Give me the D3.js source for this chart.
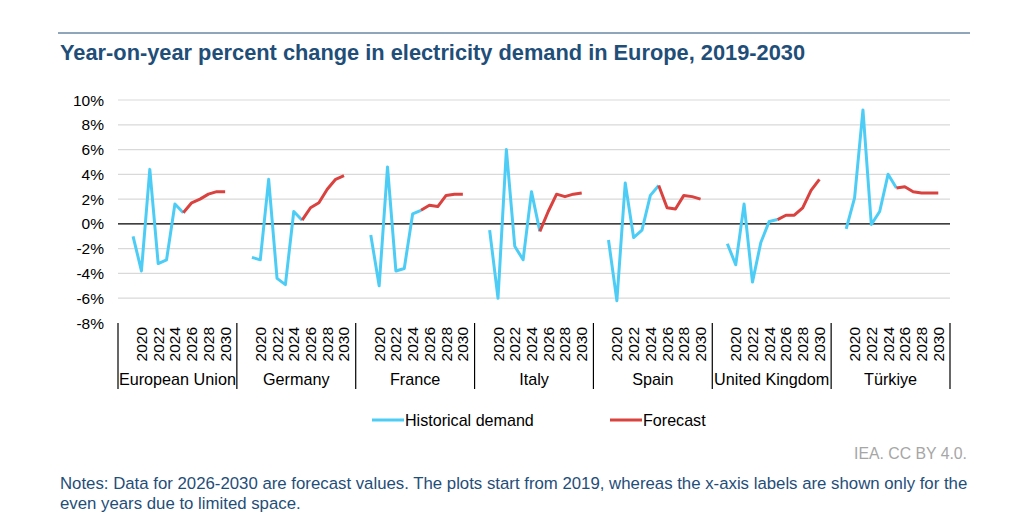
<!DOCTYPE html>
<html>
<head>
<meta charset="utf-8">
<script src="https://cdn.jsdelivr.net/npm/d3@7"></script>
<style>
body { margin: 0; background: #fff; font-family: "Liberation Sans", Arial, sans-serif; }
</style>
</head>
<body>
<div class="graphic"></div>
<script>
var regions = ["European Union", "Germany", "France", "Italy", "Spain", "United Kingdom", "Türkiye"];
var years = [2019, 2020, 2021, 2022, 2023, 2024, 2025, 2026, 2027, 2028, 2029, 2030];
var labelYears = [2020, 2022, 2024, 2026, 2028, 2030];
var yTicks = [10, 8, 6, 4, 2, 0, -2, -4, -6, -8];
var lastHistorical = 2025;
// percent change per region, 2019..2030
var demand = [
	[-1.0, -3.8, 4.4, -3.2, -2.9, 1.6, 0.9, 1.7, 2.0, 2.4, 2.6, 2.6],
	[-2.7, -2.9, 3.6, -4.4, -4.9, 1.0, 0.3, 1.3, 1.7, 2.8, 3.6, 3.9],
	[-0.9, -5.0, 4.6, -3.8, -3.6, 0.8, 1.1, 1.5, 1.4, 2.3, 2.4, 2.4],
	[-0.5, -6.0, 6.0, -1.8, -2.9, 2.6, -0.6, 1.0, 2.4, 2.2, 2.4, 2.5],
	[-1.3, -6.2, 3.3, -1.1, -0.5, 2.3, 3.1, 1.3, 1.2, 2.3, 2.2, 2.0],
	[-1.6, -3.3, 1.6, -4.7, -1.5, 0.2, 0.35, 0.7, 0.7, 1.3, 2.7, 3.6],
	[-0.4, 2.1, 9.2, -0.05, 1.0, 4.0, 2.9, 3.0, 2.6, 2.5, 2.5, 2.5]
];

var width = 1011, height = 516;
var navy = "#1f4e79";
var svg = d3.select("div.graphic").append("svg")
	.attr("width", width)
	.attr("height", height);

svg.append("line").attr("x1", 58).attr("x2", 970).attr("y1", 33).attr("y2", 33)
	.attr("stroke", navy).attr("stroke-width", 1);
svg.append("text").attr("x", 60).attr("y", 60)
	.attr("font-size", 21.8).attr("font-weight", "bold").attr("fill", navy)
	.text("Year-on-year percent change in electricity demand in Europe, 2019-2030");

var left = 118, right = 950;
var y = d3.scaleLinear().domain([-8, 10]).range([323, 100]);
var gx = d3.scaleBand().domain(regions).range([left, right]);
var inner = d3.scaleLinear().domain([2017.2, 2031.4]).range([0, gx.bandwidth()]);

// grid
svg.append("g").selectAll("line").data(yTicks.filter(function(t){ return t != 0 && t != -8; }))
	.enter().append("line")
	.attr("x1", left).attr("x2", right)
	.attr("y1", function(t){ return y(t); }).attr("y2", function(t){ return y(t); })
	.attr("stroke", "#d9d9d9").attr("stroke-width", 1.2);

svg.append("g").selectAll("text").data(yTicks).enter().append("text")
	.attr("x", 104).attr("y", function(t){ return y(t) + 5.5; })
	.attr("text-anchor", "end").attr("font-size", 15.5).attr("fill", "#000")
	.text(function(t){ return t + "%"; });

svg.append("line").attr("x1", left).attr("x2", right).attr("y1", y(0)).attr("y2", y(0))
	.attr("stroke", "#000").attr("stroke-width", 1.3);

// category axis
var cat = svg.append("g");
regions.concat([null]).forEach(function(r, i){
	var x = i < regions.length ? gx(r) : right;
	cat.append("line").attr("x1", x).attr("x2", x).attr("y1", 323).attr("y2", 389)
		.attr("stroke", "#000").attr("stroke-width", 1.2);
});
regions.forEach(function(r){
	labelYears.forEach(function(yr){
		var x = gx(r) + inner(yr);
		cat.append("text")
			.attr("transform", "translate(" + (x + 5.5) + ",327) rotate(-90)")
			.attr("text-anchor", "end").attr("font-size", 15.5).attr("fill", "#000")
			.text(yr);
	});
	cat.append("text").attr("x", gx(r) + gx.bandwidth() / 2).attr("y", 385)
		.attr("text-anchor", "middle").attr("font-size", 16.2).attr("fill", "#000")
		.text(r);
});

// lines
var line = d3.line().x(function(d){ return d.x; }).y(function(d){ return y(d.v); });
var marks = svg.append("g");
regions.forEach(function(r, i){
	var pts = years.map(function(yr, j){ return {year: yr, x: gx(r) + inner(yr), v: demand[i][j]}; });
	marks.append("path").attr("d", line(pts.filter(function(p){ return p.year <= lastHistorical; })))
		.attr("fill", "none").attr("stroke", "#4dcdf5").attr("stroke-width", 3).attr("stroke-linejoin", "round");
	marks.append("path").attr("d", line(pts.filter(function(p){ return p.year >= lastHistorical; })))
		.attr("fill", "none").attr("stroke", "#d9423f").attr("stroke-width", 3).attr("stroke-linejoin", "round");
});

// legend
var legend = [["Historical demand", "#4dcdf5", 372], ["Forecast", "#d9423f", 610]];
legend.forEach(function(l){
	svg.append("line").attr("x1", l[2]).attr("x2", l[2] + 32).attr("y1", 420).attr("y2", 420)
		.attr("stroke", l[1]).attr("stroke-width", 3);
	svg.append("text").attr("x", l[2] + 33).attr("y", 426).attr("font-size", 16.1).text(l[0]);
});

svg.append("text").attr("x", 967).attr("y", 459).attr("text-anchor", "end")
	.attr("font-size", 15.8).attr("fill", "#a6a6a6").text("IEA. CC BY 4.0.");
svg.append("text").attr("x", 60).attr("y", 489).attr("font-size", 16.8).attr("fill", navy)
	.text("Notes: Data for 2026-2030 are forecast values. The plots start from 2019, whereas the x-axis labels are shown only for the");
svg.append("text").attr("x", 60).attr("y", 509).attr("font-size", 16.8).attr("fill", navy)
	.text("even years due to limited space.");
</script>
</body>
</html>
